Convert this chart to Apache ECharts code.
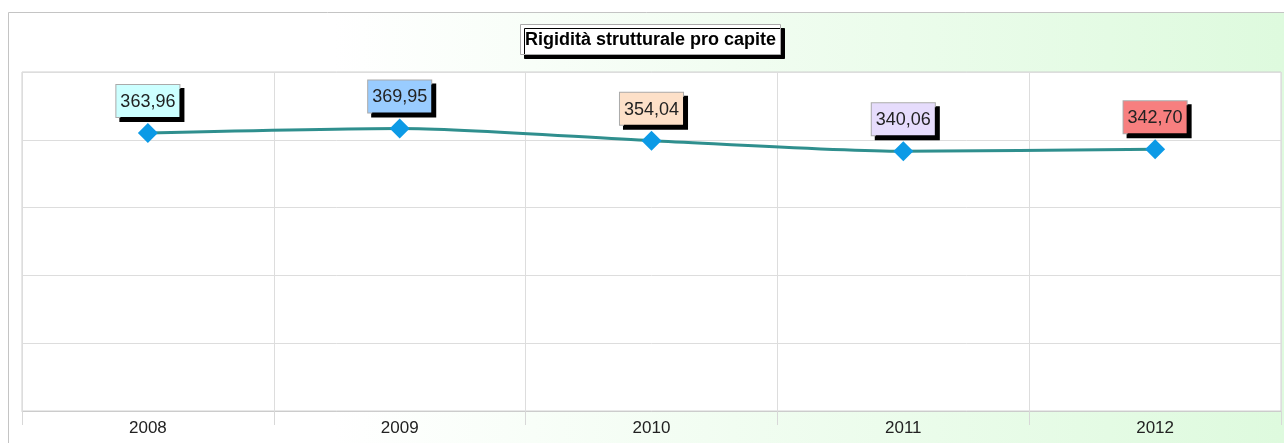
<!DOCTYPE html>
<html>
<head>
<meta charset="utf-8">
<script src="https://cdn.jsdelivr.net/npm/echarts@6/dist/echarts.min.js"></script>
<style>
html, body { margin: 0; padding: 0; background: #fff; }
#chart { width: 1284px; height: 443px; }
</style>
</head>
<body>
<div id="chart"></div>
<script>
// dati
const years = ["2008", "2009", "2010", "2011", "2012"];
const values = [363.96, 369.95, 354.04, 340.06, 342.70];
const labelColors = ["#ccffff", "#99ccff", "#fde0c8", "#e6dcfc", "#f77f7f"];

const yMax = Math.max(...values) * 1.2;

const chart = echarts.init(document.getElementById("chart"));

chart.setOption({
  animation: false,
  textStyle: { fontFamily: "Liberation Sans, Arial, sans-serif" },
  graphic: [
    {
      type: "rect",
      z: -10,
      silent: true,
      shape: { x: 8.5, y: 12.5, width: 1300, height: 460 },
      style: {
        fill: new echarts.graphic.LinearGradient(0, 0, 1, 0, [
          { offset: 0, color: "#ffffff" },
          { offset: 0.25, color: "#ffffff" },
          { offset: 1, color: "#ddfadd" }
        ]),
        stroke: "#c4c4c4",
        lineWidth: 1
      }
    }
  ],
  title: {
    text: "Rigidità strutturale pro capite",
    left: 520,
    top: 24,
    padding: [7, 5, 6, 5],
    backgroundColor: "#fff",
    borderColor: "#aaa",
    borderWidth: 1,
    shadowColor: "#000",
    shadowBlur: 0,
    shadowOffsetX: 4,
    shadowOffsetY: 4,
    textStyle: {
      fontSize: 18,
      fontWeight: "bold",
      color: "#000",
      fontFamily: "Liberation Sans, Arial, sans-serif"
    }
  },
  grid: {
    left: 22,
    right: 3,
    top: 72,
    bottom: 32,
    show: true,
    backgroundColor: "#fff",
    borderColor: "#d0d0d0",
    borderWidth: 1
  },
  xAxis: {
    type: "category",
    data: years,
    boundaryGap: true,
    axisLine: { lineStyle: { color: "#cccccc", width: 1 } },
    axisTick: { show: true, length: 14, lineStyle: { color: "#d8d8d8" } },
    axisLabel: { color: "#222", fontSize: 17, margin: 9 },
    splitLine: { show: true, lineStyle: { color: "#dddddd" } }
  },
  yAxis: {
    type: "value",
    min: 0,
    max: yMax,
    interval: yMax / 5,
    axisLine: { show: false },
    axisTick: { show: false },
    axisLabel: { show: false },
    splitLine: { lineStyle: { color: "#dddddd" } }
  },
  series: [
    {
      type: "line",
      smooth: 0.25,
      data: values.map((v, i) => ({
        value: v,
        label: { backgroundColor: labelColors[i] }
      })),
      symbol: "diamond",
      symbolSize: 20,
      itemStyle: { color: "#0c9ae6" },
      lineStyle: { color: "#2f8f8e", width: 3 },
      label: {
        show: true,
        position: "top",
        distance: 6,
        formatter: p => p.value.toFixed(2).replace(".", ","),
        color: "#222",
        fontSize: 18,
        padding: [8, 4, 6, 4],
        borderColor: "#aaa",
        borderWidth: 1,
        shadowColor: "#000",
        shadowBlur: 0,
        shadowOffsetX: 4,
        shadowOffsetY: 4
      }
    }
  ]
});
</script>
</body>
</html>
